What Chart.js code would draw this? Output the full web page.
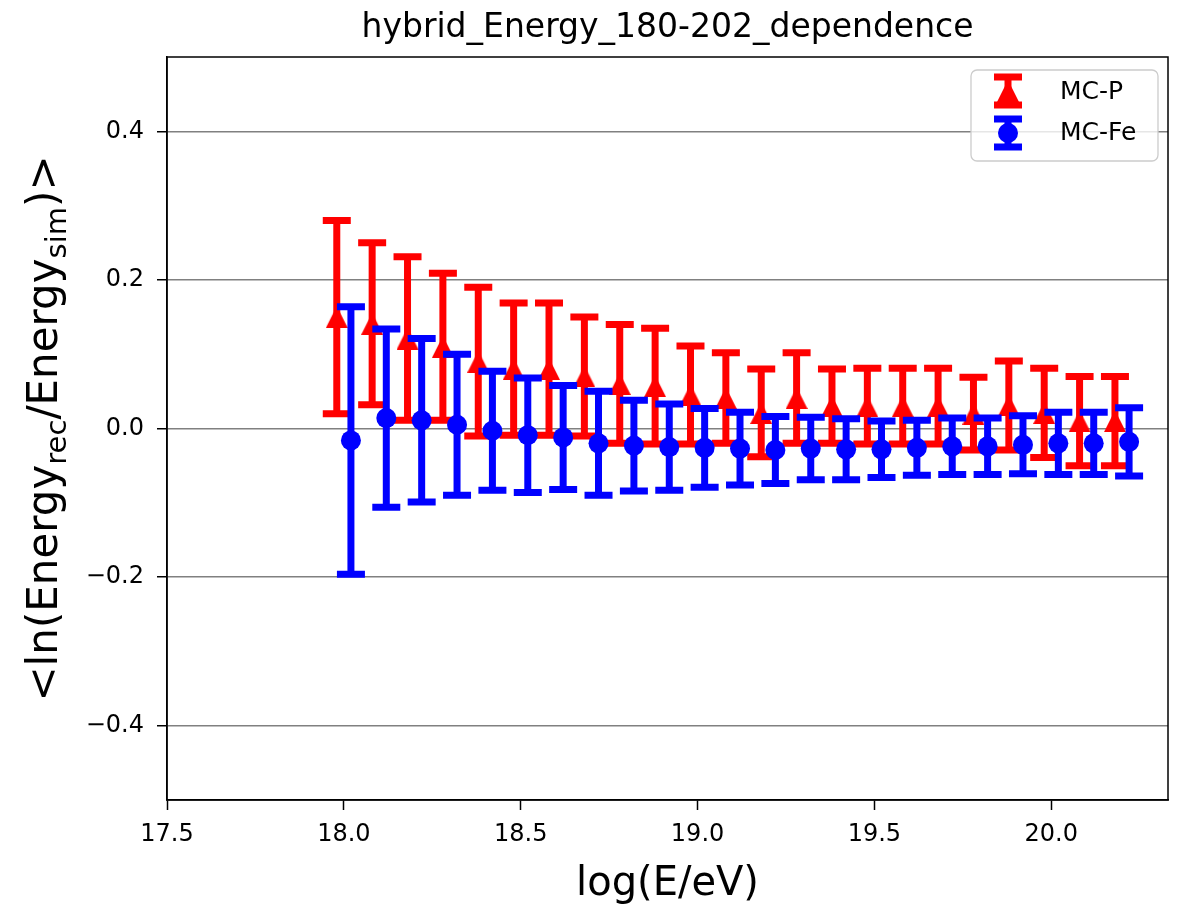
<!DOCTYPE html>
<html><head><meta charset="utf-8">
<script src="https://cdn.jsdelivr.net/npm/chart.js@4/dist/chart.umd.min.js"></script>
<style>html,body{margin:0;padding:0;background:#fff;} canvas{display:block;}</style>
</head><body>
<canvas id="c" width="1179" height="908"></canvas>
<script>
// ---------- data ----------
const titleText = 'hybrid_Energy_180-202_dependence';
const xAxisTitle = 'log(E/eV)';
const energyBins = [18.0, 18.1, 18.2, 18.3, 18.4, 18.5, 18.6, 18.7, 18.8, 18.9, 19.0, 19.1,
                    19.2, 19.3, 19.4, 19.5, 19.6, 19.7, 19.8, 19.9, 20.0, 20.1, 20.2];
const protonMean = [0.150, 0.141, 0.121, 0.110, 0.090, 0.080, 0.080, 0.070, 0.060, 0.057, 0.045, 0.041,
                    0.021, 0.041, 0.030, 0.030, 0.030, 0.030, 0.020, 0.031, 0.021, 0.010, 0.010];
const protonErr  = [0.130, 0.109, 0.110, 0.099, 0.100, 0.089, 0.089, 0.080, 0.080, 0.078, 0.066, 0.061,
                    0.059, 0.061, 0.050, 0.051, 0.051, 0.051, 0.049, 0.060, 0.060, 0.060, 0.060];
const ironMean   = [-0.016, 0.014, 0.011, 0.005, -0.003, -0.009, -0.012, -0.020, -0.023, -0.025, -0.026, -0.027,
                    -0.029, -0.027, -0.028, -0.028, -0.026, -0.024, -0.024, -0.022, -0.020, -0.020, -0.018];
const ironErr    = [0.180, 0.120, 0.110, 0.095, 0.080, 0.077, 0.070, 0.070, 0.061, 0.058, 0.053, 0.049,
                    0.045, 0.042, 0.041, 0.038, 0.037, 0.038, 0.038, 0.039, 0.042, 0.042, 0.046];
const seriesNames = ['MC-P', 'MC-Fe'];
const xTickValues = [17.5, 18.0, 18.5, 19.0, 19.5, 20.0];
const xTickLabels = ['17.5', '18.0', '18.5', '19.0', '19.5', '20.0'];
const yTickValues = [-0.4, -0.2, 0.0, 0.2, 0.4];
const yTickLabels = ['\u22120.4', '\u22120.2', '0.0', '0.2', '0.4'];

// ---------- styling ----------
const FONT = '"DejaVu Sans", sans-serif';
const RED = '#ff0000', BLUE = '#0000ff';
const DODGE = 0.02;
const BAR_W = 7, CAP_W = 28;

function triangleMarker(size, color) {
  const c = document.createElement('canvas');
  c.width = size; c.height = size;
  const g = c.getContext('2d');
  g.fillStyle = color;
  g.beginPath();
  g.moveTo(size / 2, 0);
  g.lineTo(size, size);
  g.lineTo(0, size);
  g.closePath();
  g.fill();
  return c;
}
const triImg = triangleMarker(22, RED);

const pData = energyBins.map((e, i) => ({x: e - DODGE, y: protonMean[i]}));
const fData = energyBins.map((e, i) => ({x: e + DODGE, y: ironMean[i]}));

function drawErrorBar(ctx, px, pyLo, pyHi, color) {
  ctx.save();
  ctx.strokeStyle = color;
  ctx.lineCap = 'butt';
  ctx.lineWidth = BAR_W;
  ctx.beginPath();
  ctx.moveTo(px, pyLo); ctx.lineTo(px, pyHi);
  ctx.stroke();
  ctx.beginPath();
  ctx.moveTo(px - CAP_W / 2, pyLo); ctx.lineTo(px + CAP_W / 2, pyLo);
  ctx.moveTo(px - CAP_W / 2, pyHi); ctx.lineTo(px + CAP_W / 2, pyHi);
  ctx.stroke();
  ctx.restore();
}

const errorBarPlugin = {
  id: 'errorBars',
  beforeDatasetDraw(chart, args) {
    const ds = chart.data.datasets[args.index];
    if (!ds.errors) return;
    const xs = chart.scales.x, ys = chart.scales.y, ctx = chart.ctx;
    ds.data.forEach((p, i) => {
      const px = xs.getPixelForValue(p.x);
      drawErrorBar(ctx, px, ys.getPixelForValue(p.y - ds.errors[i]), ys.getPixelForValue(p.y + ds.errors[i]), ds.errColor);
    });
  },
  afterDraw(chart) {
    const ctx = chart.ctx, a = chart.chartArea;
    // frame
    ctx.save();
    ctx.strokeStyle = '#000';
    ctx.lineWidth = 1.5;
    ctx.strokeRect(a.left, a.top, a.right - a.left, a.bottom - a.top);
    // title
    ctx.fillStyle = '#000';
    ctx.textAlign = 'center';
    ctx.textBaseline = 'alphabetic';
    ctx.font = '33px ' + FONT;
    ctx.fillText(titleText, (a.left + a.right) / 2, 37);
    // x-axis title
    ctx.font = '40px ' + FONT;
    ctx.fillText(xAxisTitle, (a.left + a.right) / 2, 895);
    // y-axis title with subscripts
    const parts = [['<ln(Energy', 42, 0], ['rec', 29, 9], ['/Energy', 42, 0], ['sim', 29, 9], [')>', 42, 0]];
    let total = 0;
    parts.forEach(p => { ctx.font = p[1] + 'px ' + FONT; total += ctx.measureText(p[0]).width; });
    ctx.translate(57, (a.top + a.bottom) / 2);
    ctx.rotate(-Math.PI / 2);
    ctx.textAlign = 'left';
    let cx = -total / 2;
    parts.forEach(p => {
      ctx.font = p[1] + 'px ' + FONT;
      ctx.fillText(p[0], cx, p[2]);
      cx += ctx.measureText(p[0]).width;
    });
    ctx.restore();

    // legend
    ctx.save();
    const lx = 971, ly = 70, lw = 187, lh = 91, r = 6;
    ctx.beginPath();
    ctx.moveTo(lx + r, ly);
    ctx.arcTo(lx + lw, ly, lx + lw, ly + lh, r);
    ctx.arcTo(lx + lw, ly + lh, lx, ly + lh, r);
    ctx.arcTo(lx, ly + lh, lx, ly, r);
    ctx.arcTo(lx, ly, lx + lw, ly, r);
    ctx.closePath();
    ctx.fillStyle = 'rgba(255,255,255,0.8)';
    ctx.fill();
    ctx.strokeStyle = '#cccccc';
    ctx.lineWidth = 1.3;
    ctx.stroke();
    const hx = 1008;
    drawErrorBar(ctx, hx, 105, 77, RED);
    ctx.drawImage(triImg, hx - 11, 91 - 11);
    drawErrorBar(ctx, hx, 147, 119, BLUE);
    ctx.fillStyle = BLUE;
    ctx.beginPath(); ctx.arc(hx, 133, 10, 0, Math.PI * 2); ctx.fill();
    ctx.fillStyle = '#000';
    ctx.font = '25px ' + FONT;
    ctx.textAlign = 'left';
    ctx.textBaseline = 'middle';
    ctx.fillText(seriesNames[0], 1060, 92);
    ctx.fillText(seriesNames[1], 1060, 133);
    ctx.restore();
  }
};

new Chart(document.getElementById('c'), {
  type: 'scatter',
  data: {
    datasets: [
      {label: seriesNames[0], data: pData, errors: protonErr, errColor: RED, order: 2,
       pointStyle: triImg, pointRadius: 11, pointBackgroundColor: RED, pointBorderWidth: 0,
       showLine: false},
      {label: seriesNames[1], data: fData, errors: ironErr, errColor: BLUE, order: 1,
       pointStyle: 'circle', pointRadius: 10, pointBackgroundColor: BLUE, pointBorderColor: BLUE, pointBorderWidth: 0,
       showLine: false}
    ]
  },
  options: {
    responsive: false,
    animation: false,
    devicePixelRatio: 1,
    layout: {padding: {left: 0, right: 11, top: 57, bottom: 0}},
    plugins: {legend: {display: false}, tooltip: {enabled: false}, title: {display: false}},
    scales: {
      x: {
        type: 'linear', min: 17.5, max: 20.33,
        afterFit(s) { s.height = 108; },
        afterBuildTicks(s) { s.ticks = xTickValues.map(v => ({value: v})); },
        grid: {drawOnChartArea: false, tickColor: '#000', tickLength: 10, tickWidth: 1.5},
        border: {display: true, color: '#000', width: 1.5},
        ticks: {autoSkip: false, maxRotation: 0, padding: 10, color: '#000',
                font: {family: FONT, size: 24},
                callback: (v, i) => xTickLabels[i]}
      },
      y: {
        type: 'linear', min: -0.5, max: 0.5,
        afterFit(s) { s.width = 167; },
        afterBuildTicks(s) { s.ticks = yTickValues.map(v => ({value: v})); },
        grid: {color: '#808080', lineWidth: 1.5, tickColor: '#000', tickLength: 10, tickWidth: 1.5},
        border: {display: true, color: '#000', width: 1.5},
        ticks: {autoSkip: false, padding: 13, color: '#000',
                font: {family: FONT, size: 24},
                callback: (v, i) => yTickLabels[i]}
      }
    }
  },
  plugins: [errorBarPlugin]
});
</script>
</body></html>
